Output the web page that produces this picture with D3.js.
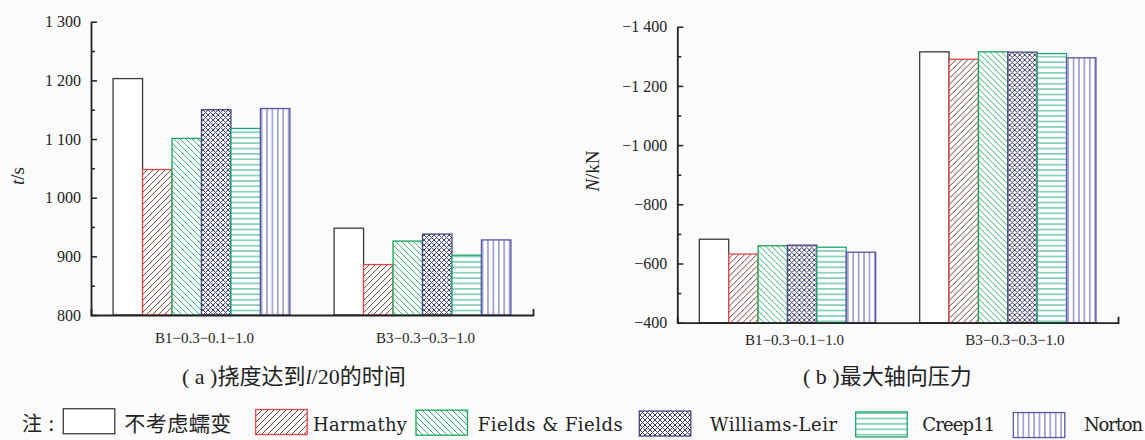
<!DOCTYPE html>
<html><head><meta charset="utf-8">
<script src="https://cdn.jsdelivr.net/npm/d3@7"></script>
<style>body{margin:0;background:#fbfbfb}svg{display:block}</style>
</head><body>
<svg id="c" width="1145" height="440"></svg>
<script>
// ---------- data ----------
const categories = ["B1−0.3−0.1−1.0", "B3−0.3−0.3−1.0"];
const seriesNames = ["不考虑蠕变", "Harmathy", "Fields & Fields", "Williams-Leir", "Creep11", "Norton"];
// time for deflection to reach l/20 (s), per category, per series
const timeB1 = [1203, 1048, 1101, 1150, 1118, 1152];
const timeB3 = [948, 886, 926, 938, 902, 928];
// maximum axial force (kN)
const forceB1 = [-682, -632, -660, -662, -655, -638];
const forceB3 = [-1315, -1290, -1315, -1314, -1309, -1295];
const timeTicks = [800, 900, 1000, 1100, 1200, 1300];
const timeMinor = [850, 950, 1050, 1150, 1250];
const forceTicks = [-400, -600, -800, -1000, -1200, -1400];
const forceMinor = [-500, -700, -900, -1100, -1300];

// ---------- styles ----------
const styles = [
  {stroke: "#3a3a3a", hatch: null, type: null},
  {stroke: "#e84448", hatch: "#6e3e3e", type: "fwd"},
  {stroke: "#17a556", hatch: "#34b072", type: "back"},
  {stroke: "#46467e", hatch: "#38386e", type: "cross"},
  {stroke: "#1ea46c", hatch: "#2bb07e", type: "h"},
  {stroke: "#5656ac", hatch: "#5c5cb2", type: "v"}
];

const svg = d3.select("#c");
const defs = svg.append("defs");
const serif = "'Liberation Serif','Times New Roman',serif";
const legSerif = "'DejaVu Serif',serif";
const cjk = "'Noto Sans CJK SC','Noto Sans CJK JP',sans-serif";

styles.forEach((st, i) => {
  if (!st.type) return;
  const s = st.type === "cross" ? 5 : (st.type === "h" || st.type === "v") ? 5.4 : 6;
  const p = defs.append("pattern").attr("id", "pat" + i)
    .attr("patternUnits", "userSpaceOnUse").attr("width", s).attr("height", s);
  p.append("rect").attr("width", s).attr("height", s).attr("fill", "#fff");
  const fwd = `M0,${s}L${s},0M-1,1L1,-1M${s-1},${s+1}L${s+1},${s-1}`;
  const back = `M0,0L${s},${s}M-1,${s-1}L1,${s+1}M${s-1},-1L${s+1},1`;
  let d;
  if (st.type === "fwd") d = fwd;
  else if (st.type === "back") d = back;
  else if (st.type === "cross") d = fwd + back;
  else if (st.type === "h") d = `M0,${s/2}H${s}`;
  else d = `M${s/2},0V${s}`;
  p.append("path").attr("d", d).attr("stroke", st.hatch).attr("stroke-width", 1).attr("fill", "none");
});
const fillOf = i => styles[i].type ? `url(#pat${i})` : "#fff";

const locale = d3.formatLocale({decimal: ".", thousands: " ", grouping: [3], currency: ["", ""], minus: "−"});
const fmt = locale.format(",d");

function drawChart(cfg) {
  const g = svg.append("g");
  const x0 = d3.scaleBand().domain(categories).range([cfg.xL, cfg.xR]).paddingInner(0.2).paddingOuter(0.1);
  const x1 = d3.scaleBand().domain(seriesNames).range([0, x0.bandwidth()]);
  const y = d3.scaleLinear().domain(cfg.domain).range([cfg.yB, cfg.yT]);
  const base = cfg.domain[0];

  // bars
  const grp = g.selectAll("g.grp").data(categories).join("g")
    .attr("transform", c => `translate(${x0(c)},0)`);
  grp.each(function(c, ci) {
    const vals = cfg.values[ci];
    d3.select(this).selectAll("rect").data(vals).join("rect")
      .attr("x", (v, i) => x1(seriesNames[i]))
      .attr("y", v => y(v))
      .attr("width", x1.bandwidth())
      .attr("height", v => y(base) - y(v))
      .attr("fill", (v, i) => fillOf(i))
      .attr("stroke", (v, i) => styles[i].stroke)
      .attr("stroke-width", 1.3);
  });

  // y axis major
  const ya = g.append("g").attr("transform", `translate(${cfg.xL},0)`)
    .call(d3.axisLeft(y).tickValues(cfg.ticks).tickFormat(fmt).tickSizeInner(-6).tickSizeOuter(0).tickPadding(10));
  ya.select(".domain").attr("stroke", "#222").attr("stroke-width", 1.8);
  ya.selectAll(".tick line").attr("stroke", "#222").attr("stroke-width", 1.5);
  ya.selectAll(".tick text").attr("font-family", serif).attr("font-size", 16).attr("fill", "#222");
  // y axis minor
  const ym = g.append("g").attr("transform", `translate(${cfg.xL},0)`)
    .call(d3.axisLeft(y).tickValues(cfg.minor).tickFormat("").tickSizeInner(-4).tickSizeOuter(0));
  ym.select(".domain").remove();
  ym.selectAll(".tick line").attr("stroke", "#222").attr("stroke-width", 1.5);

  // x axis
  const xa = g.append("g").attr("transform", `translate(0,${cfg.yB})`)
    .call(d3.axisBottom(x0).tickSizeInner(0).tickSizeOuter(-6).tickPadding(cfg.labPad));
  xa.select(".domain").attr("stroke", "#222").attr("stroke-width", 1.8);
  xa.selectAll(".tick text").attr("font-family", serif).attr("font-size", 15).attr("fill", "#222")
    .attr("dx", cfg.labDx);

  // y title
  const t = g.append("text").attr("transform", `translate(${cfg.titleX},${cfg.titleY}) rotate(-90)`)
    .attr("text-anchor", "middle").attr("font-family", serif).attr("font-size", 19).attr("fill", "#222");
  t.append("tspan").attr("font-style", "italic").text(cfg.titleIt);
  t.append("tspan").text(cfg.titleRest);
}

drawChart({xL: 91, xR: 533, yB: 315, yT: 21.7, domain: [800, 1300], values: [timeB1, timeB3],
  ticks: timeTicks, minor: timeMinor, labPad: 17, labDx: 3, titleX: 24, titleY: 176, titleIt: "t", titleRest: "/s"});
drawChart({xL: 677.3, xR: 1118, yB: 322.7, yT: 26.7, domain: [-400, -1400], values: [forceB1, forceB3],
  ticks: forceTicks, minor: forceMinor, labPad: 11.5, labDx: 7, titleX: 599, titleY: 171, titleIt: "N", titleRest: "/kN"});

// captions
function caption(x, parts) {
  const t = svg.append("text").attr("x", x).attr("y", 384).attr("font-size", 22).attr("fill", "#222");
  parts.forEach(p => t.append("tspan").attr("font-family", p.f === "c" ? cjk : serif)
    .attr("font-style", p.i ? "italic" : null).text(p.t));
}
caption(182, [{t: "( a )"}, {t: "挠度达到", f: "c"}, {t: "l", i: true}, {t: "/20"}, {t: "的时间", f: "c"}]);
caption(803, [{t: "( b )"}, {t: "最大轴向压力", f: "c"}]);

// legend
svg.append("text").attr("x", 22).attr("y", 431).attr("font-family", cjk).attr("font-size", 20)
  .attr("fill", "#222").attr("textLength", 32).attr("lengthAdjust", "spacing").text("注:");
const legBoxX = [63.3, 255.7, 416, 639.3, 855.7, 1013.3];
const legTextX = [124.3, 313, 477.7, 710, 922.3, 1084];
const legTextW = [107, 94, 145, 127, 73, 59];
const leg = svg.append("g").selectAll("g").data(seriesNames).join("g");
leg.append("rect")
  .attr("x", (d, i) => legBoxX[i]).attr("y", (d, i) => 408.5 + legBoxX[i] * 0.004)
  .attr("width", 51.5).attr("height", 25)
  .attr("fill", (d, i) => fillOf(i)).attr("stroke", (d, i) => styles[i].stroke).attr("stroke-width", 1.3);
leg.append("text")
  .attr("x", (d, i) => legTextX[i]).attr("y", 431)
  .attr("font-family", (d, i) => i === 0 ? cjk : legSerif)
  .attr("font-size", (d, i) => i === 0 ? 21 : 18)
  .attr("fill", "#222")
  .attr("textLength", (d, i) => legTextW[i]).attr("lengthAdjust", "spacing")
  .text(d => d);
</script>
</body></html>
